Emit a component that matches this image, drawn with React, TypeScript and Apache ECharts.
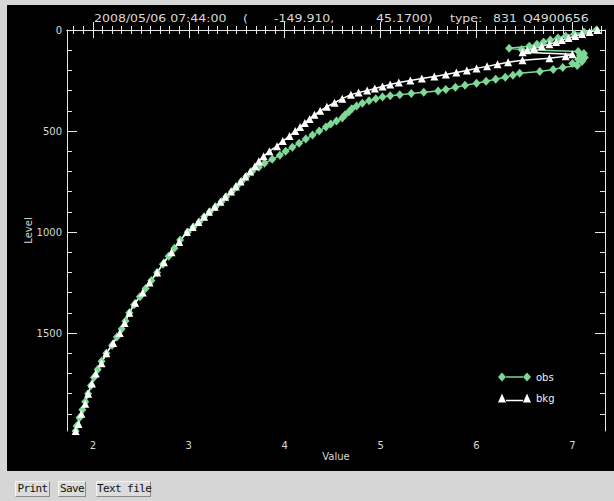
import React, { useEffect, useRef } from "react";
import * as echarts from "echarts";

// ---- data ----
const XMIN = 1.73;
const XMAX = 7.34;
const YMIN = 0;
const YMAX = 1985;

const xMajorTicks = [2, 3, 4, 5, 6, 7];
const yMajorTicks = [0, 500, 1000, 1500];

const bkgLevel = [
  0, 10, 20, 30, 40, 50, 60, 70, 80, 90, 100, 110, 120,
  130, 140, 150, 160, 170, 180, 190, 200, 210, 220, 230, 240, 250, 260, 270, 280, 290, 300, 310, 320,
  340, 360, 380, 400, 420, 440, 460, 480, 500,
  525, 550, 575, 600, 625, 650, 675, 700, 725, 750, 775, 800, 825, 850, 875, 900, 925, 950, 975, 1000,
  1050, 1100, 1150, 1200, 1250, 1300, 1350, 1400, 1450, 1500, 1550, 1600, 1650, 1700, 1750, 1800, 1850, 1900, 1950,
  1985,
];
const bkgValue = [
  7.26, 7.18, 7.1, 7.03, 6.96, 6.89, 6.83, 6.76, 6.68, 6.6, 6.53, 6.48, 7.0,
  6.93, 6.76, 6.48, 6.33, 6.22, 6.11, 6.0, 5.9, 5.79, 5.68, 5.56, 5.43, 5.31, 5.19, 5.1, 5.02, 4.94, 4.86, 4.77, 4.69,
  4.6, 4.52, 4.44, 4.37, 4.31, 4.26, 4.21, 4.16, 4.11,
  4.05, 3.98, 3.92, 3.84, 3.78, 3.73, 3.69, 3.64, 3.59, 3.54, 3.49, 3.44, 3.38, 3.33, 3.27, 3.21, 3.16, 3.1, 3.04, 2.98,
  2.9, 2.82, 2.74, 2.67, 2.59, 2.52, 2.44, 2.38, 2.33, 2.28, 2.21, 2.14, 2.09, 2.03, 1.99, 1.95, 1.92, 1.88, 1.85,
  1.82,
];

const obsLevel = [
  0, 10, 20, 30, 40, 50, 60, 70, 80, 90, 96, 106, 116, 126, 136, 146, 156, 166, 176, 186, 196, 206,
  214, 224, 234, 244, 254, 264, 274, 284, 294, 302, 308, 314, 320, 326, 332, 340, 350, 362, 376, 390,
  405, 420, 436, 450, 465, 480, 500, 520, 540, 560, 580, 600, 620, 640, 660, 680, 700, 725, 750, 775,
  800, 825, 850, 875, 900, 925, 950, 975, 1000, 1040, 1080, 1120, 1160, 1200, 1240, 1280, 1320, 1360,
  1400, 1440, 1480, 1520, 1560, 1600, 1640, 1680, 1720, 1760, 1800, 1840, 1880, 1920, 1960, 1985,
];
const obsValue = [
  7.25, 7.12, 7.02, 6.93, 6.85, 6.77, 6.7, 6.63, 6.55, 6.34, 6.47, 7.06, 7.12, 7.08, 7.13, 7.06, 7.1, 7.0, 7.05, 6.9, 6.8, 6.66,
  6.45, 6.38, 6.3, 6.2, 6.1, 6.0, 5.88, 5.78, 5.68, 5.6, 5.45, 5.32, 5.2, 5.1, 5.02, 4.95, 4.88, 4.81, 4.75, 4.7,
  4.67, 4.63, 4.6, 4.54, 4.48, 4.43, 4.36, 4.29, 4.22, 4.15, 4.08, 4.01, 3.95, 3.87, 3.79, 3.73, 3.66, 3.6, 3.55, 3.5,
  3.45, 3.39, 3.34, 3.28, 3.22, 3.16, 3.11, 3.05, 2.99, 2.91, 2.85, 2.79, 2.73, 2.67, 2.61, 2.55, 2.49, 2.43,
  2.38, 2.34, 2.3, 2.25, 2.2, 2.14, 2.09, 2.05, 2.01, 1.98, 1.95, 1.92, 1.89, 1.86, 1.83, 1.82,
];

const seriesNames = ["obs", "bkg"];
const titleParts = [
  { text: "2008/05/06 07:44:00", x: 87 },
  { text: "(", x: 236 },
  { text: "-149.910,", x: 267 },
  { text: "45.1700)", x: 369 },
  { text: "type:", x: 443 },
  { text: "831", x: 486 },
  { text: "Q4900656", x: 516 },
];
const buttons = [
  { label: "Print", left: 15, width: 35 },
  { label: "Save", left: 58, width: 28 },
  { label: "Text file", left: 96, width: 55 },
];

const GREEN = "#7ed896";
const WHITE = "#ffffff";
const AXIS = "#e6e6e6";
const LABEL = "#d8d8d8";
const FONT = "DejaVu Sans";

const xMinorTicks: number[] = [];
for (let i = 18; i <= 73; i++) if (i % 10 !== 0) xMinorTicks.push(i / 10);
const yMinorTicks: number[] = [];
for (let v = 100; v <= 1900; v += 100) if (v % 500 !== 0) yMinorTicks.push(v);

const diamondIcon =
  "path://M0,4.5L4,0L8,4.5L4,9ZM8,3.8L25,3.8L25,5.2L8,5.2ZM25,4.5L29,0L33,4.5L29,9Z";
const triangleIcon =
  "path://M0,9L4,0L8,9ZM8,6.3L25,6.3L25,7.7L8,7.7ZM25,9L29,0L33,9Z";

const plainNumber = (v: number) => String(v);

function xAxisDef(position: "top" | "bottom", major: boolean, labels: boolean) {
  return {
    type: "value",
    position,
    min: XMIN,
    max: XMAX,
    splitLine: { show: false },
    axisLine: { show: major, lineStyle: { color: AXIS, width: 1 } },
    axisTick: {
      show: true,
      inside: true,
      length: major ? 8 : 4,
      customValues: major ? xMajorTicks : xMinorTicks,
      lineStyle: { color: AXIS, width: 1 },
    },
    axisLabel: labels
      ? {
          show: true,
          customValues: xMajorTicks,
          formatter: plainNumber,
          color: LABEL,
          fontSize: 10,
          fontFamily: FONT,
          margin: 9,
        }
      : { show: false },
    name: labels ? "Value" : "",
    nameLocation: "middle",
    nameGap: 20,
    nameMoveOverlap: false,
    nameTextStyle: { color: LABEL, fontSize: 10, fontFamily: FONT },
  };
}

function yAxisDef(position: "left" | "right", major: boolean, labels: boolean) {
  return {
    type: "value",
    position,
    inverse: true,
    min: YMIN,
    max: YMAX,
    splitLine: { show: false },
    axisLine: { show: major, lineStyle: { color: AXIS, width: 1 } },
    axisTick: {
      show: true,
      inside: true,
      length: major ? 10 : 5,
      customValues: major ? yMajorTicks : yMinorTicks,
      lineStyle: { color: AXIS, width: 1 },
    },
    axisLabel: labels
      ? {
          show: true,
          customValues: yMajorTicks,
          formatter: plainNumber,
          color: LABEL,
          fontSize: 10,
          fontFamily: FONT,
          margin: 5,
        }
      : { show: false },
    name: labels ? "Level" : "",
    nameLocation: "middle",
    nameGap: 34,
    nameMoveOverlap: false,
    nameTextStyle: { color: LABEL, fontSize: 10, fontFamily: FONT },
  };
}

export default function App() {
  const ref = useRef<HTMLDivElement>(null);

  useEffect(() => {
    document.body.style.margin = "0";
    if (!ref.current) return;
    const chart = echarts.init(ref.current, null, { renderer: "svg" });
    chart.setOption({
      animation: false,
      backgroundColor: "#000000",
      grid: { left: 60, right: 9, top: 25, bottom: 40, containLabel: false, outerBoundsMode: "none" },
      xAxis: [
        xAxisDef("bottom", true, true),
        xAxisDef("bottom", false, false),
        xAxisDef("top", true, false),
        xAxisDef("top", false, false),
      ],
      yAxis: [
        yAxisDef("left", true, true),
        yAxisDef("left", false, false),
        yAxisDef("right", true, false),
        yAxisDef("right", false, false),
      ],
      legend: {
        orient: "vertical",
        left: 486,
        top: 362,
        itemWidth: 33,
        itemHeight: 9,
        itemGap: 11,
        textStyle: { color: "#f0f0f0", fontSize: 10, fontFamily: FONT },
        data: [
          { name: seriesNames[0], icon: diamondIcon },
          { name: seriesNames[1], icon: triangleIcon },
        ],
      },
      graphic: titleParts.map((p) => ({
        type: "text",
        x: p.x,
        y: 13,
        scaleX: 1.14,
        style: {
          text: p.text,
          fill: LABEL,
          fontSize: 11,
          fontFamily: FONT,
          verticalAlign: "middle",
          align: "left",
        },
      })),
      series: [
        {
          type: "line",
          name: seriesNames[0],
          xAxisIndex: 0,
          yAxisIndex: 0,
          data: obsValue.map((v, i) => [v, obsLevel[i]]),
          symbol: "diamond",
          symbolSize: [8, 9],
          showSymbol: true,
          itemStyle: { color: GREEN },
          lineStyle: { color: GREEN, width: 1.5 },
          clip: true,
        },
        {
          type: "line",
          name: seriesNames[1],
          xAxisIndex: 0,
          yAxisIndex: 0,
          data: bkgValue.map((v, i) => [v, bkgLevel[i]]),
          symbol: "triangle",
          symbolSize: [8, 8],
          showSymbol: true,
          itemStyle: { color: WHITE },
          lineStyle: { color: WHITE, width: 1.5 },
          clip: true,
        },
      ],
    });
    return () => chart.dispose();
  }, []);

  return (
    <div
      style={{
        position: "relative",
        width: 614,
        height: 501,
        background: "#d6d6d6",
        overflow: "hidden",
      }}
    >
      <div ref={ref} style={{ position: "absolute", left: 7, top: 5, width: 607, height: 466 }} />
      {buttons.map((b) => (
        <div
          key={b.label}
          style={{
            position: "absolute",
            left: b.left,
            top: 481,
            width: b.width,
            height: 16,
            boxSizing: "border-box",
            background: "#dcdcdc",
            borderTop: "1px solid #f4f4f4",
            borderLeft: "1px solid #f4f4f4",
            borderRight: "1px solid #8a8a8a",
            borderBottom: "1px solid #8a8a8a",
            fontFamily: "DejaVu Sans Mono",
            fontSize: 11,
            letterSpacing: -0.6,
            lineHeight: "14px",
            textAlign: "center",
            color: "#111",
            whiteSpace: "pre",
          }}
        >
          {b.label}
        </div>
      ))}
    </div>
  );
}
